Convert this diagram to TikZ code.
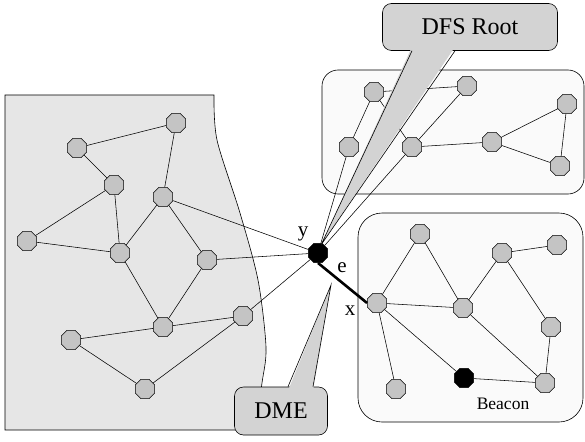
\documentclass[tikz,border=0pt]{standalone}
\usepackage{fontspec}
\setmainfont{Liberation Serif}
\usetikzlibrary{shapes.geometric}
\definecolor{ink}{HTML}{000000}
\definecolor{cloud}{HTML}{E6E6E6}
\definecolor{pane}{HTML}{FAFAFA}
\definecolor{dot}{HTML}{C4C4C4}
\definecolor{tag}{HTML}{D3D3D3}
\tikzset{
  vtx/.style={regular polygon,regular polygon sides=8,draw=ink,fill=dot,
              line width=0.5pt,minimum size=21pt,inner sep=0pt},
  hub/.style={vtx,fill=ink},
  link/.style={draw=ink,line width=0.55pt},
  region/.style={draw=ink,line width=0.6pt},
  tagbox/.style={draw=ink,fill=tag,rounded corners=9pt,line width=0.6pt,
                 inner sep=0pt,font=\fontsize{24}{26}\selectfont},
  lbl/.style={inner sep=0pt,font=\fontsize{21}{23}\selectfont}
}
\begin{document}
\begin{tikzpicture}[x=1pt,y=-1pt]
  \useasboundingbox (0,0) rectangle (585,441);
  % the three clusters
  \fill[cloud] (5,95) -- plot[smooth] coordinates {(214,95) (217,140) (240,213) (258,280) (266,347) (262,383) (255,430)} -- (5,430) -- cycle;
  \draw[region] (255,430) -- (5,430) -- (5,95) -- plot[smooth] coordinates {(214,95) (217,140) (240,213) (258,280) (266,347) (262,383) (255,430)};
  \draw[region,fill=pane,rounded corners=16pt] (322,70) rectangle (584,194);
  \draw[region,fill=pane,rounded corners=24pt] (358,213) rectangle (583,422);

  % left cluster
  \node[vtx] (l1) at (176,123) {};
  \node[vtx] (l2) at (77,148) {};
  \node[vtx] (l3) at (114,185) {};
  \node[vtx] (l4) at (163,197) {};
  \node[vtx] (l5) at (27,241) {};
  \node[vtx] (l6) at (120,253) {};
  \node[vtx] (l7) at (207,260) {};
  \node[vtx] (l8) at (243,316) {};
  \node[vtx] (l9) at (163,327) {};
  \node[vtx] (l10) at (71,340) {};
  \node[vtx] (l11) at (145,389) {};

  % top cluster
  \node[vtx] (t1) at (374,92) {};
  \node[vtx] (t2) at (467,86) {};
  \node[vtx] (t3) at (349,147) {};
  \node[vtx] (t4) at (412,147) {};
  \node[vtx] (t5) at (492,142) {};
  \node[vtx] (t6) at (567,104) {};
  \node[vtx] (t7) at (560,166) {};

  % beacon cluster
  \node[vtx] (b1) at (377,303) {};
  \node[vtx] (b2) at (420,234) {};
  \node[vtx] (b3) at (502,253) {};
  \node[vtx] (b4) at (557,245) {};
  \node[vtx] (b5) at (463,308) {};
  \node[vtx] (b6) at (551,327) {};
  \node[vtx] (b7) at (396,389) {};
  \node[hub] (b8) at (464,378) {};
  \node[vtx] (b9) at (545,383) {};

  \node[hub] (y) at (318,253) {};

  \draw[link] (l2)--(l1); \draw[link] (l1)--(l4); \draw[link] (l2)--(l3); \draw[link] (l3)--(l5);
  \draw[link] (l3)--(l6); \draw[link] (l5)--(l6); \draw[link] (l4)--(l6); \draw[link] (l4)--(l7);
  \draw[link] (l6)--(l9); \draw[link] (l7)--(l9); \draw[link] (l9)--(l10); \draw[link] (l9)--(l8);
  \draw[link] (l10)--(l11); \draw[link] (l11)--(l8);
  \draw[link] (l4)--(y); \draw[link] (l7)--(y); \draw[link] (l8)--(y);

  \draw[link] (t1)--(t2); \draw[link] (t1)--(t3); \draw[link] (t1)--(t4); \draw[link] (t2)--(t4);
  \draw[link] (t4)--(t5); \draw[link] (t5)--(t6); \draw[link] (t5)--(t7); \draw[link] (t6)--(t7);
  \draw[link] (t3)--(y); \draw[link] (t4)--(y);

  \draw[link] (b1)--(b2); \draw[link] (b2)--(b5); \draw[link] (b1)--(b5); \draw[link] (b5)--(b3);
  \draw[link] (b3)--(b4); \draw[link] (b3)--(b6); \draw[link] (b6)--(b9); \draw[link] (b5)--(b9);
  \draw[link] (b1)--(b7); \draw[link] (b1)--(b8); \draw[link] (b8)--(b9);

  \draw[ink,line width=2.6pt] (y.south) -- (b1.west);

  % callouts
  \node[tagbox,minimum width=175pt,minimum height=47pt] (rootTag) at (470,27) {DFS Root};
  \coordinate (rootTip) at (321,245);
  \fill[tag] ([xshift=-58pt,yshift=4pt]rootTag.south) -- (rootTip) -- ([xshift=-15pt,yshift=4pt]rootTag.south) -- cycle;
  \draw[ink,line width=0.6pt,line join=miter] ([xshift=-58pt]rootTag.south) -- (rootTip) -- ([xshift=-15pt]rootTag.south);

  \node[tagbox,minimum width=93pt,minimum height=48pt] (dmeTag) at (281,411) {DME};
  \coordinate (dmeTip) at (331,285);
  \fill[tag] ([xshift=7pt,yshift=-4pt]dmeTag.north) -- (dmeTip) -- ([xshift=32pt,yshift=-4pt]dmeTag.north) -- cycle;
  \draw[ink,line width=0.6pt] ([xshift=7pt]dmeTag.north) -- (dmeTip) -- ([xshift=32pt]dmeTag.north);

  \node[lbl] (ylbl) at (303,234) {y};
  \node[lbl] (elbl) at (342,268) {e};
  \node[lbl] (xlbl) at (350,311) {x};
  \node[inner sep=0pt,font=\fontsize{17.5}{19}\selectfont] (beacon) at (503,404) {Beacon};
\end{tikzpicture}
\end{document}
